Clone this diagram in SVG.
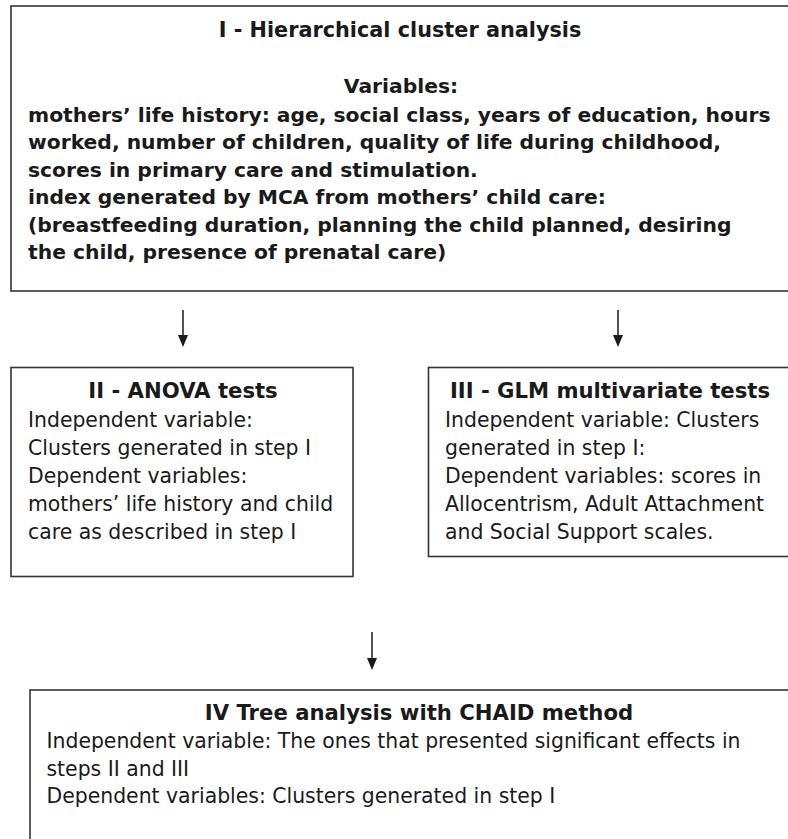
<svg xmlns="http://www.w3.org/2000/svg" width="788" height="839" viewBox="0 0 788 839">
<style>
.box{fill:#fff;stroke:#333;stroke-width:1.6}
.t{font-family:"DejaVu Sans","Verdana",sans-serif;fill:#1a1a1a}
.b{font-weight:bold}
.h1{font-size:20.8px}
.bb{font-size:20.3px}
.h2{font-size:21.2px}
.r{font-size:20.4px}
.c{text-anchor:middle}
.arr{stroke:#1a1a1a;stroke-width:1.5;fill:none}
</style>
<rect width="788" height="839" fill="#fff"/>
<g id="connectors">
<path class="arr" d="M183,310 V336"/><path d="M178,335 L188,335 L183,347 Z" fill="#1a1a1a"/>
<path class="arr" d="M618,310 V336"/><path d="M613,335 L623,335 L618,347 Z" fill="#1a1a1a"/>
<path class="arr" d="M372,632 V659"/><path d="M367,658 L377,658 L372,670 Z" fill="#1a1a1a"/>
</g>
<g id="node-I">
<rect class="box" x="11" y="6" width="790" height="285"/>
<text class="t b h1 c" x="400" y="37">I - Hierarchical cluster analysis</text>
<text class="t b bb c" x="401" y="93">Variables:</text>
<text class="t b bb" x="28" y="121.5">mothers’ life history: age, social class, years of education, hours</text>
<text class="t b bb" x="28" y="149">worked, number of children, quality of life during childhood,</text>
<text class="t b bb" x="28" y="176.5">scores in primary care and stimulation.</text>
<text class="t b bb" x="28" y="204">index generated by MCA from mothers’ child care:</text>
<text class="t b bb" x="28" y="231.5">(breastfeeding duration, planning the child planned, desiring</text>
<text class="t b bb" x="28" y="259">the child, presence of prenatal care)</text>
</g>
<g id="node-II">
<rect class="box" x="11" y="367.5" width="342" height="209"/>
<text class="t b h2 c" x="183" y="398">II - ANOVA tests</text>
<text class="t r" x="28" y="426.5">Independent variable:</text>
<text class="t r" x="28" y="454.5">Clusters generated in step I</text>
<text class="t r" x="28" y="482.5">Dependent variables:</text>
<text class="t r" x="28" y="510.5">mothers’ life history and child</text>
<text class="t r" x="28" y="538.5">care as described in step I</text>
</g>
<g id="node-III">
<rect class="box" x="428.5" y="367.5" width="370" height="189"/>
<text class="t b h2 c" x="610" y="398">III - GLM multivariate tests</text>
<text class="t r" x="445" y="426.5">Independent variable: Clusters</text>
<text class="t r" x="445" y="454.5">generated in step I:</text>
<text class="t r" x="445" y="482.5">Dependent variables: scores in</text>
<text class="t r" x="445" y="510.5">Allocentrism, Adult Attachment</text>
<text class="t r" x="445" y="538.5">and Social Support scales.</text>
</g>
<g id="node-IV">
<rect class="box" x="30" y="690" width="780" height="170"/>
<text class="t b h2 c" x="419" y="720">IV Tree analysis with CHAID method</text>
<text class="t r" x="46.5" y="748">Independent variable: The ones that presented significant effects in</text>
<text class="t r" x="46.5" y="775.5">steps II and III</text>
<text class="t r" x="46.5" y="803">Dependent variables: Clusters generated in step I</text>
</g>
</svg>
